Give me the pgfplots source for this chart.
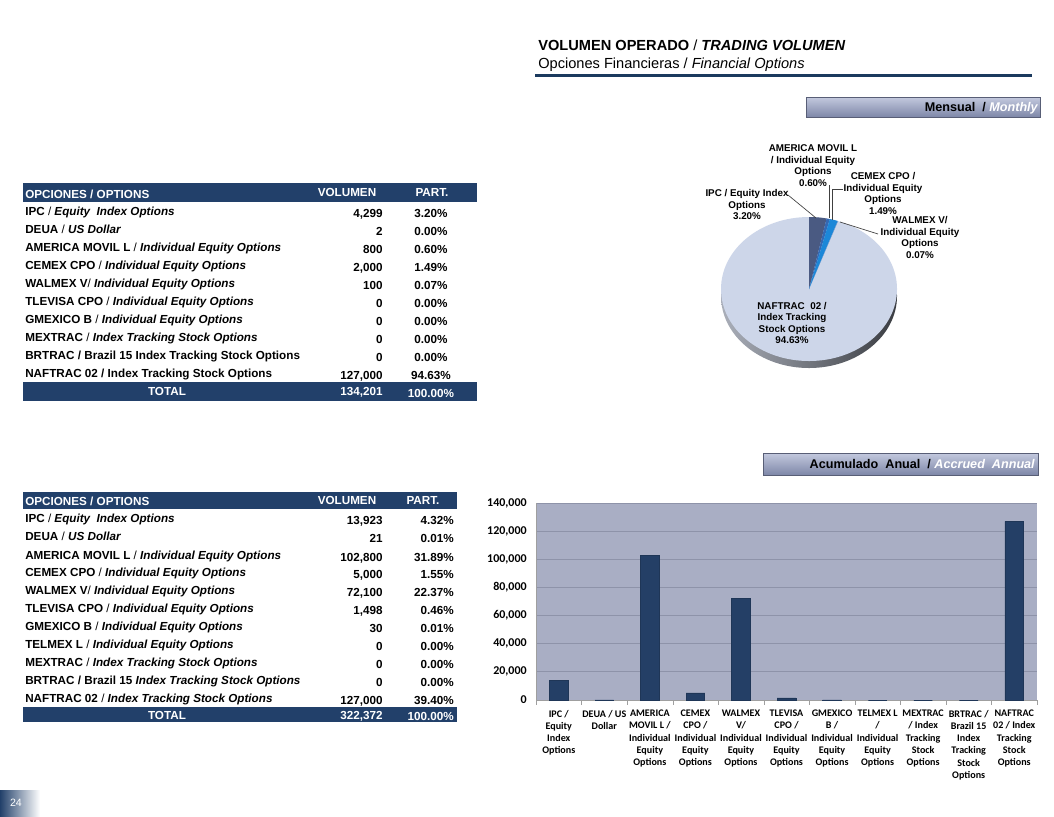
\documentclass[border=0pt]{standalone}
\usepackage{pgfplots}
\pgfplotsset{compat=1.18}
\usepackage{fontspec}
\setmainfont{Liberation Sans}
\newfontfamily\carlito{Carlito}

\definecolor{navy}{HTML}{22406A}
\definecolor{titleline}{HTML}{1B3A5E}
\definecolor{barnavy}{HTML}{243F66}
\definecolor{chartbg}{HTML}{A9AEC4}
\definecolor{gridc}{HTML}{8E93A9}
\definecolor{pielight}{HTML}{CDD6E9}
\definecolor{pieipc}{HTML}{4A5A82}
\definecolor{pieam}{HTML}{3568B2}
\definecolor{piecem}{HTML}{1C87D8}
\definecolor{piewal}{HTML}{6A95CC}
\definecolor{tabtop}{HTML}{C3C9DE}
\definecolor{tabbot}{HTML}{7E87A8}

% monthly volumes (pie)
\def\vIPC{4299}
\def\vAM{800}
\def\vCEM{2000}
\def\vWAL{100}
\def\vTOT{134201}
\edef\aS{90}
\edef\aA{\fpeval{\aS-\vIPC/\vTOT*360}}
\edef\aB{\fpeval{\aA-\vAM/\vTOT*360}}
\edef\aC{\fpeval{\aB-\vCEM/\vTOT*360}}
\edef\aD{\fpeval{\aC-\vWAL/\vTOT*360}}

\newcommand\tabfont{\fontsize{8.8}{10}\selectfont\bfseries}
\newcommand\slsh{{\mdseries/}}
% row: y, label, volume, part, x of part, anchor of part
\newcommand\trow[6]{%
  \node[anchor=base west,inner sep=0] at (25,#1+4) {#2};
  \node[anchor=base east,inner sep=0] at (383,#1+6) {#3};
  \node[anchor=base #6,inner sep=0] at (#5,#1+6) {#4};}

\begin{document}
\begin{tikzpicture}[x=0.75bp,y=-0.75bp]
\fill[white] (0,0) rectangle (1054,816);
\path[use as bounding box] (0,0) rectangle (1054,816);

% title
\node[anchor=base west,inner sep=0,font=\fontsize{11}{13}\selectfont\bfseries] at (538,50)
  {VOLUMEN OPERADO \slsh{} \textit{TRADING VOLUMEN}};
\node[anchor=base west,inner sep=0,font=\fontsize{11}{13}\selectfont] at (538,68)
  {Opciones Financieras / \textit{Financial Options}};
\draw[line width=2.25bp,titleline] (535,75) -- (1032,75);

% section bars
\shade[top color=tabtop,bottom color=tabbot,draw=tabbot!70!black] (806,97) rectangle (1040,117);
\node[anchor=base east,inner sep=0,font=\fontsize{9.5}{11}\selectfont\bfseries] at (1038,111)
  {Mensual \ / \textcolor{white}{\itshape Monthly}};
\shade[top color=tabtop,bottom color=tabbot,draw=tabbot!70!black] (763,453) rectangle (1038,475);
\node[anchor=base east,inner sep=0,font=\fontsize{9.5}{11}\selectfont\bfseries] at (1035,468)
  {Acumulado\ \ Anual \ / \textcolor{white}{\itshape Accrued\ \ Annual}};

% table 1 (monthly)
\fill[navy] (23,183) rectangle (477,202);
\fill[navy] (23,382) rectangle (477,401);
\begin{scope}[font=\tabfont]
\node[anchor=base west,inner sep=0,white] at (25,198) {OPCIONES / OPTIONS};
\node[anchor=base,inner sep=0,white] at (347,196) {VOLUMEN};
\node[anchor=base,inner sep=0,white] at (432,196) {PART.};
\trow{211}{IPC \slsh{} \textit{Equity\ \ Index Options}}{4,299}{3.20\%}{431}{}
\trow{229}{DEUA \slsh{} \textit{US Dollar}}{2}{0.00\%}{431}{}
\trow{247}{AMERICA MOVIL L \slsh{} \textit{Individual Equity Options}}{800}{0.60\%}{431}{}
\trow{265}{CEMEX CPO \slsh{} \textit{Individual Equity Options}}{2,000}{1.49\%}{431}{}
\trow{283}{WALMEX V\slsh{} \textit{Individual Equity Options}}{100}{0.07\%}{431}{}
\trow{301}{TLEVISA CPO \slsh{} \textit{Individual Equity Options}}{0}{0.00\%}{431}{}
\trow{319}{GMEXICO B \slsh{} \textit{Individual Equity Options}}{0}{0.00\%}{431}{}
\trow{337}{MEXTRAC \slsh{} \textit{Index Tracking Stock Options}}{0}{0.00\%}{431}{}
\trow{355}{BRTRAC / Brazil 15 Index Tracking Stock Options}{0}{0.00\%}{431}{}
\trow{373}{NAFTRAC 02 / Index Tracking Stock Options}{127,000}{94.63\%}{431}{}
\node[anchor=base,inner sep=0,white] at (167,395) {TOTAL};
\node[anchor=base east,inner sep=0,white] at (383,395) {134,201};
\node[anchor=base,inner sep=0,white] at (431,397) {100.00\%};
\end{scope}

% table 2 (accrued annual)
\fill[navy] (23,492) rectangle (457,509);
\fill[navy] (23,707) rectangle (457,722);
\draw[white,line width=0.6bp] (308,509) -- (380,509);
\begin{scope}[font=\tabfont]
\node[anchor=base west,inner sep=0,white] at (25,505) {OPCIONES / OPTIONS};
\node[anchor=base,inner sep=0,white] at (347,504) {VOLUMEN};
\node[anchor=base,inner sep=0,white] at (423,504) {PART.};
\trow{518}{IPC \slsh{} \textit{Equity\ \ Index Options}}{13,923}{4.32\%}{454}{east}
\trow{536}{DEUA \slsh{} \textit{US Dollar}}{21}{0.01\%}{454}{east}
\trow{555}{AMERICA MOVIL L \slsh{} \textit{Individual Equity Options}}{102,800}{31.89\%}{454}{east}
\trow{572}{CEMEX CPO \slsh{} \textit{Individual Equity Options}}{5,000}{1.55\%}{454}{east}
\trow{590}{WALMEX V\slsh{} \textit{Individual Equity Options}}{72,100}{22.37\%}{454}{east}
\trow{608}{TLEVISA CPO \slsh{} \textit{Individual Equity Options}}{1,498}{0.46\%}{454}{east}
\trow{626}{GMEXICO B \slsh{} \textit{Individual Equity Options}}{30}{0.01\%}{454}{east}
\trow{644}{TELMEX L \slsh{} \textit{Individual Equity Options}}{0}{0.00\%}{454}{east}
\trow{662}{MEXTRAC \slsh{} \textit{Index Tracking Stock Options}}{0}{0.00\%}{454}{east}
\trow{680}{BRTRAC / Brazil 15 \textit{Index Tracking Stock Options}}{0}{0.00\%}{454}{east}
\trow{698}{NAFTRAC 02 \slsh{} \textit{Index Tracking Stock Options}}{127,000}{39.40\%}{454}{east}
\node[anchor=base,inner sep=0,white] at (167,719) {TOTAL};
\node[anchor=base east,inner sep=0,white] at (383,719) {322,372};
\node[anchor=base east,inner sep=0,white] at (454,720) {100.00\%};
\end{scope}

% pie (monthly); centre at pixel (809,289)
\begin{axis}[at={(606.75bp,-216.75bp)},anchor=center,x=0.75bp,y=0.75bp,
  xmin=-100,xmax=100,ymin=-100,ymax=100,hide axis,clip=false]
\addplot[draw=none] coordinates {(0,0)};
\shade[left color=gray!45!pielight,right color=black!72!pielight]
  (axis cs:0,-7) ellipse[x radius=66bp,y radius=54bp];
\fill[pielight] (axis cs:0,0) ellipse[x radius=66bp,y radius=54bp];
\fill[pieipc] (axis cs:0,0) -- ++(\aS:66bp and 54bp)
  arc[start angle=\aS,end angle=\aA,x radius=66bp,y radius=54bp] -- cycle;
\fill[pieam] (axis cs:0,0) -- ++(\aA:66bp and 54bp)
  arc[start angle=\aA,end angle=\aB,x radius=66bp,y radius=54bp] -- cycle;
\fill[piecem] (axis cs:0,0) -- ++(\aB:66bp and 54bp)
  arc[start angle=\aB,end angle=\aC,x radius=66bp,y radius=54bp] -- cycle;
\fill[piewal] (axis cs:0,0) -- ++(\aC:66bp and 54bp)
  arc[start angle=\aC,end angle=\aD,x radius=66bp,y radius=54bp] -- cycle;
\end{axis}

% pie labels
\begin{scope}[font=\fontsize{7.4}{8.6}\selectfont\bfseries]
\node[align=center,inner sep=0] at (813,165.5) {AMERICA MOVIL L\\/ Individual Equity\\Options\\0.60\%};
\node[align=center,inner sep=0] at (883,193.5) {CEMEX CPO /\\Individual Equity\\Options\\1.49\%};
\node[align=center,inner sep=0] at (747,204.5) {IPC / Equity Index\\Options\\3.20\%};
\node[align=center,inner sep=0] at (920,237.5) {WALMEX V/\\Individual Equity\\Options\\0.07\%};
\node[align=center,inner sep=0] at (792,323) {NAFTRAC\ \ 02 /\\Index Tracking\\Stock Options\\94.63\%};
\end{scope}
\begin{scope}[draw=black!75,line width=0.5bp]
\draw (788,195) -- (816,218);
\draw (829,185) -- (829,218);
\draw (843,189) -- (832,189) -- (832,220);
\draw (878,234) -- (840,222);
\end{scope}

% bar chart (accrued annual); plot area lower left at pixel (536,700)
\begin{axis}[at={(402bp,-525bp)},anchor=south west,scale only axis,
  width=375.75bp,height=147.75bp,
  xmin=-0.5,xmax=10.5,ymin=0,ymax=140000,
  axis background/.style={fill=chartbg},
  axis x line*=bottom,axis y line*=left,
  axis line style={draw=gray!75},
  ytick={0,20000,...,140000},ymajorgrids,
  grid style={gridc,line width=0.6bp},
  scaled y ticks=false,
  yticklabel style={/pgf/number format/fixed,/pgf/number format/1000 sep={,},
    /pgf/number format/assume math mode=true,
    font=\carlito\bfseries\fontsize{9}{10}\selectfont,xshift=-3.5bp},
  xtick={0,...,10},
  minor xtick={-0.5,0.5,...,10.5},
  major tick length=0pt,minor tick length=3.5bp,tick align=outside,
  minor tick style={gray!75},
  xticklabel style={font=\carlito\bfseries\fontsize{7.6}{9.2}\selectfont,align=center,
    anchor=north,yshift=-4bp},
  xticklabels={{IPC /\\Equity\\Index\\Options},{DEUA / US\\Dollar},
    {AMERICA\\MOVIL L /\\Individual\\Equity\\Options},
    {CEMEX\\CPO /\\Individual\\Equity\\Options},
    {WALMEX\\V/\\Individual\\Equity\\Options},
    {TLEVISA\\CPO /\\Individual\\Equity\\Options},
    {GMEXICO\\B /\\Individual\\Equity\\Options},
    {TELMEX L\\/\\Individual\\Equity\\Options},
    {MEXTRAC\\/ Index\\Tracking\\Stock\\Options},
    {BRTRAC /\\Brazil 15\\Index\\Tracking\\Stock\\Options},
    {NAFTRAC\\02 / Index\\Tracking\\Stock\\Options}},
]
\addplot[ybar,bar width=14bp,fill=barnavy,draw=barnavy!85!black]
  coordinates {(0,13923) (1,21) (2,102800) (3,5000) (4,72100) (5,1498)
               (6,30) (7,0) (8,0) (9,0) (10,127000)};
\end{axis}

% page number
\shade[left color=navy,right color=white] (0,790) rectangle (40,816);
\node[white,font=\fontsize{8}{9}\selectfont,inner sep=0] at (16,803) {24};
\end{tikzpicture}
\end{document}
